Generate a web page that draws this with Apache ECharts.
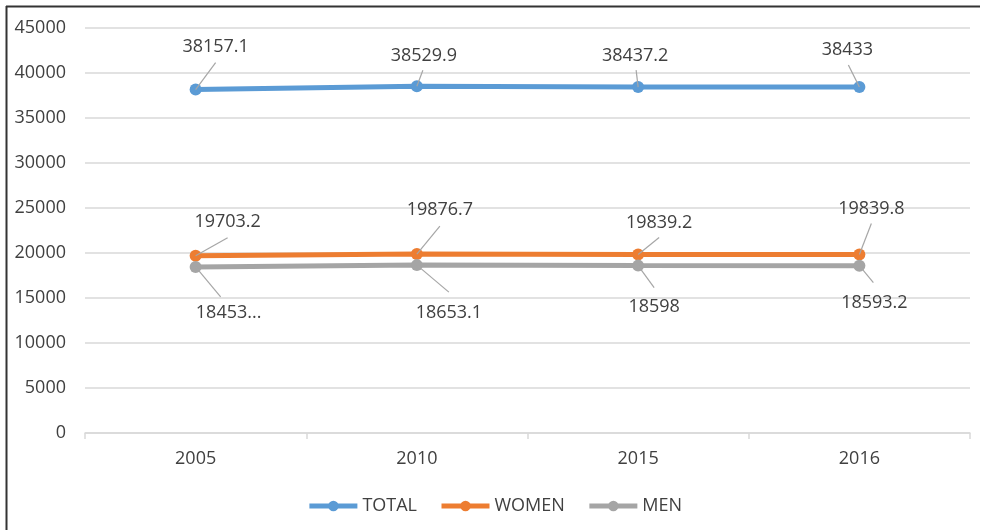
<!DOCTYPE html>
<html>
<head>
<meta charset="utf-8">
<script src="https://cdn.jsdelivr.net/npm/echarts@6/dist/echarts.min.js"></script>
<style>
html,body{margin:0;padding:0;background:#fff;}
#chart{width:989px;height:530px;}
</style>
</head>
<body>
<div id="chart"></div>
<script>
const categories = ['2005', '2010', '2015', '2016'];
const totalValues = [38157.1, 38529.9, 38437.2, 38433];
const womenValues = [19703.2, 19876.7, 19839.2, 19839.8];
const menValues = [18453.4, 18653.1, 18598, 18593.2];
const menLabels = ['18453...', '18653.1', '18598', '18593.2'];

// label offsets and leader-line vectors (styling only, pixels)
const totalOffsets = [[20, -43], [7, -30], [-3, -31], [-12, -37]];
const womenOffsets = [[32, -34], [23, -44], [21, -32], [12, -46]];
const menOffsets = [[33, 46], [32, 48], [16, 41], [15, 37]];
const totalLeaders = [[20, -27], [6, -16], [-2, -17], [-11, -22]];
const womenLeaders = [[32, -18], [23, -28], [21, -17], [12, -31]];
const menLeaders = [[25, 30], [32, 27], [16, 22], [14, 17]];

const FONT = 'Open Sans';
const TXT = '#404040';
const FS = 18;

function buildData(values, offsets, texts) {
  return values.map((v, i) => ({
    value: v,
    label: {
      offset: offsets[i],
      formatter: texts ? texts[i] : String(v)
    }
  }));
}

function series(name, color, values, offsets, texts) {
  return {
    name: name,
    type: 'line',
    z: 3,
    data: buildData(values, offsets, texts),
    symbol: 'circle',
    symbolSize: 12,
    lineStyle: { width: 5, color: color },
    itemStyle: { color: color },
    label: {
      show: true,
      position: 'inside',
      fontFamily: FONT,
      fontSize: FS,
      color: TXT
    },
    emphasis: { disabled: true },
    animation: false
  };
}

function leaderSeries(values, leaders) {
  return {
    type: 'custom',
    z: 4,
    silent: true,
    animation: false,
    data: values.map((v, i) => [i, v]),
    renderItem: function (params, api) {
      const p = api.coord([api.value(0), api.value(1)]);
      const d = leaders[params.dataIndex];
      return {
        type: 'line',
        shape: { x1: p[0], y1: p[1], x2: p[0] + d[0], y2: p[1] + d[1] },
        style: { stroke: '#a6a6a6', lineWidth: 1.2 }
      };
    }
  };
}

const chart = echarts.init(document.getElementById('chart'));
chart.setOption({
  backgroundColor: '#ffffff',
  animation: false,
  grid: { left: 85, right: 19, top: 28, bottom: 97, containLabel: false },
  xAxis: {
    type: 'category',
    data: categories,
    boundaryGap: true,
    axisLine: { lineStyle: { color: '#d9d9d9', width: 1.5 } },
    axisTick: { show: true, length: 6, lineStyle: { color: '#d9d9d9', width: 1.5 } },
    axisLabel: { fontFamily: FONT, fontSize: FS, color: TXT, margin: 17 }
  },
  yAxis: {
    type: 'value',
    min: 0,
    max: 45000,
    interval: 5000,
    axisLine: { show: false },
    axisTick: { show: false },
    axisLabel: { fontFamily: FONT, fontSize: FS, color: TXT, margin: 19, formatter: function (v) { return String(v); } },
    splitLine: { lineStyle: { color: '#d9d9d9', width: 1.5 } }
  },
  legend: {
    bottom: 10,
    left: 'center',
    itemWidth: 48,
    itemHeight: 13,
    itemGap: 22,
    lineStyle: { width: 5 },
    textStyle: { fontFamily: FONT, fontSize: FS, color: TXT },
    data: ['TOTAL', 'WOMEN', 'MEN']
  },
  graphic: [
    { type: 'line', shape: { x1: 6.5, y1: 6, x2: 6.5, y2: 530 }, style: { stroke: '#333', lineWidth: 2 }, silent: true },
    { type: 'line', shape: { x1: 6, y1: 6.5, x2: 980, y2: 6.5 }, style: { stroke: '#333', lineWidth: 2 }, silent: true }
  ],
  series: [
    leaderSeries(totalValues, totalLeaders),
    leaderSeries(womenValues, womenLeaders),
    leaderSeries(menValues, menLeaders),
    series('TOTAL', '#5b9bd5', totalValues, totalOffsets),
    series('WOMEN', '#ed7d31', womenValues, womenOffsets),
    series('MEN', '#a5a5a5', menValues, menOffsets, menLabels)
  ]
});
</script>
</body>
</html>
